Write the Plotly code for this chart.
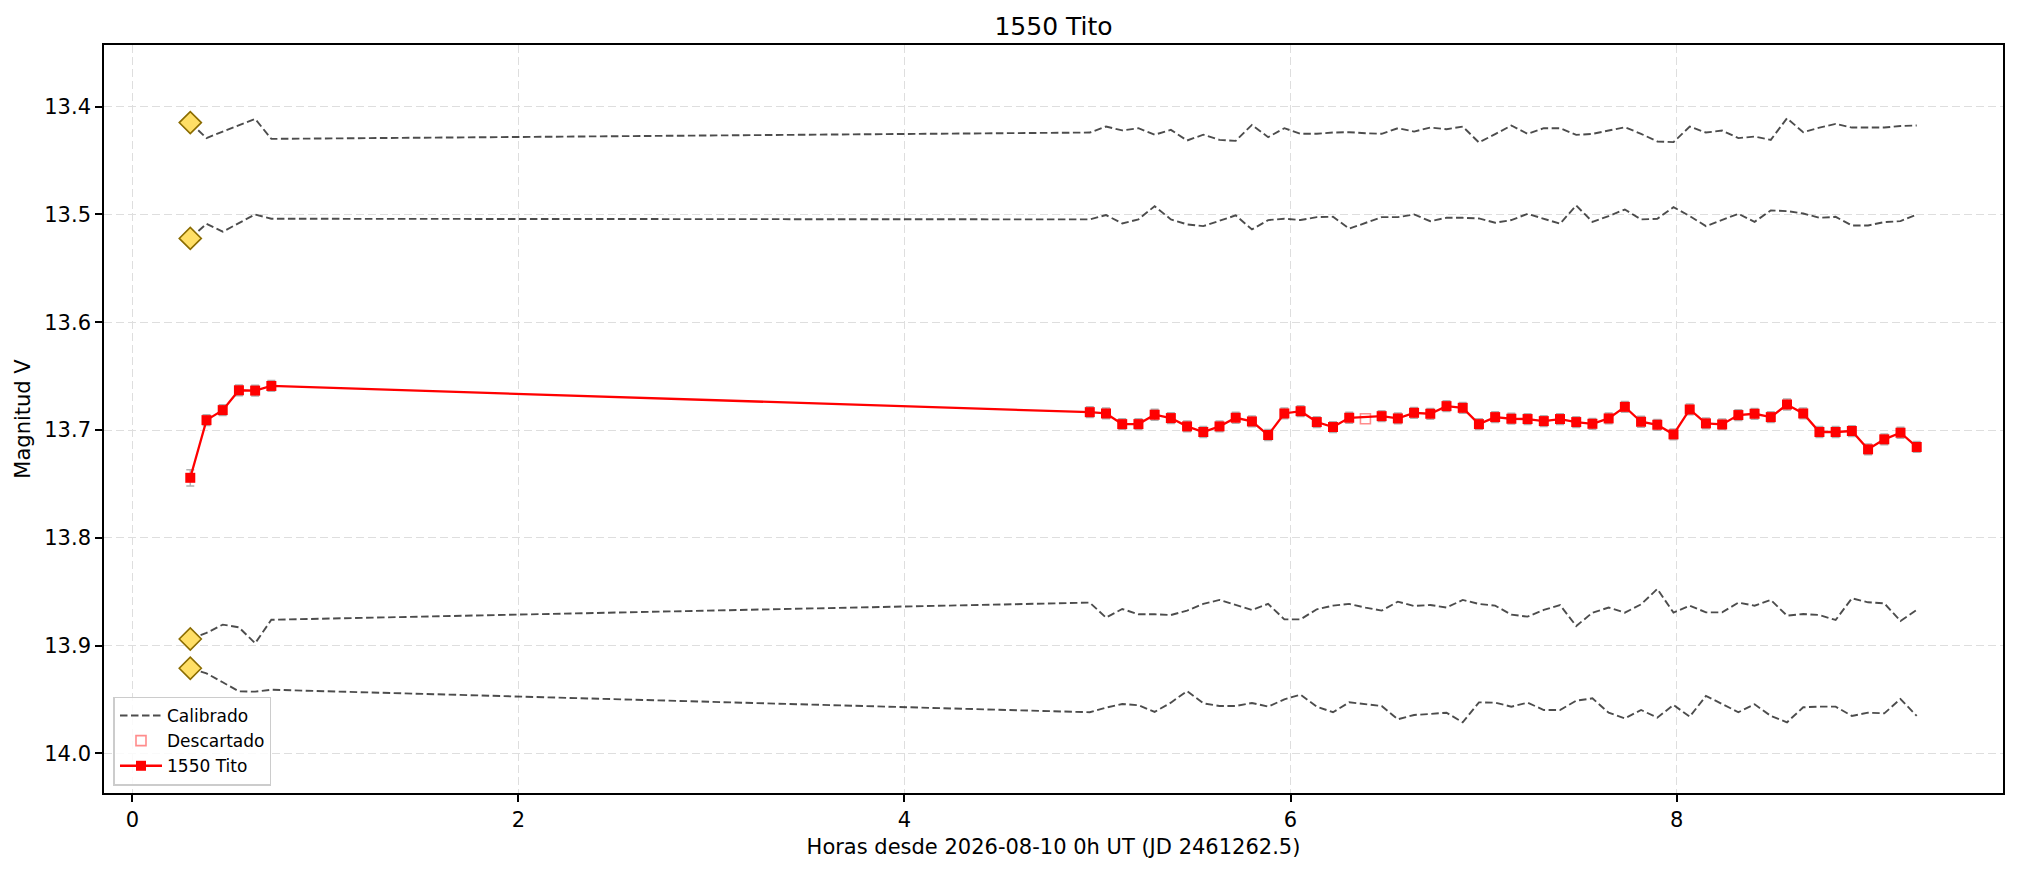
"""Light curve of 1550 Tito with the calibrated comparison stars, as in the reference."""
import plotly.graph_objects as go

TITLE = "1550 Tito"
X_LABEL = "Horas desde 2026-08-10 0h UT (JD 2461262.5)"
Y_LABEL = "Magnitud V"

# hours since 2026-08-10 0h UT, one exposure every ~5 min
TIME_H = [
    0.300, 0.384, 0.468, 0.552, 0.636, 0.720,
    4.960, 5.044, 5.128, 5.212, 5.296, 5.380, 5.464, 5.548, 5.632, 5.716,
    5.800, 5.884, 5.968, 6.052, 6.136, 6.220, 6.304, 6.388, 6.472, 6.556,
    6.640, 6.724, 6.808, 6.892, 6.976, 7.060, 7.144, 7.228, 7.312, 7.396,
    7.480, 7.564, 7.648, 7.732, 7.816, 7.900, 7.984, 8.068, 8.152, 8.236,
    8.320, 8.404, 8.488, 8.572, 8.656, 8.740, 8.824, 8.908, 8.992, 9.076,
    9.160, 9.244,
]

TITO_MAG = [
    13.7443, 13.6908, 13.6815, 13.6631, 13.6634, 13.6591,
    13.6834, 13.6846, 13.6945, 13.6945, 13.6858, 13.6889, 13.6966, 13.7018, 13.6966, 13.6886,
    13.6920, 13.7046, 13.6846, 13.6825, 13.6926, 13.6972, 13.6886, 13.6895, 13.6871, 13.6892,
    13.6840, 13.6849, 13.6778, 13.6794, 13.6945, 13.6880, 13.6895, 13.6898, 13.6917, 13.6898,
    13.6926, 13.6942, 13.6892, 13.6785, 13.6923, 13.6951, 13.7040, 13.6809, 13.6938, 13.6948,
    13.6861, 13.6849, 13.6880, 13.6763, 13.6846, 13.7018, 13.7018, 13.7009, 13.7179, 13.7086,
    13.7025, 13.7157,
]

TITO_ERR = [
    0.0075, 0.005, 0.005, 0.005, 0.005, 0.005,
    0.005, 0.005, 0.005, 0.005, 0.005, 0.005, 0.005, 0.005, 0.005, 0.005,
    0.005, 0.005, 0.005, 0.005, 0.005, 0.005, 0.005, 0.005, 0.005, 0.005,
    0.005, 0.005, 0.005, 0.005, 0.005, 0.005, 0.005, 0.005, 0.005, 0.005,
    0.005, 0.005, 0.005, 0.005, 0.005, 0.005, 0.005, 0.005, 0.005, 0.005,
    0.005, 0.005, 0.005, 0.005, 0.005, 0.005, 0.005, 0.005, 0.005, 0.005,
    0.005, 0.005,
]

DISCARDED = [23]  # index into TIME_H / TITO_MAG

COMP_A = [
    13.4148, 13.4292, 13.4231, 13.4175, 13.4114, 13.4299,
    13.4240, 13.4185, 13.4220, 13.4200, 13.4260, 13.4215, 13.4314, 13.4260, 13.4308, 13.4317,
    13.4169, 13.4283, 13.4200, 13.4252, 13.4252, 13.4240, 13.4237, 13.4246, 13.4252, 13.4200,
    13.4231, 13.4194, 13.4209, 13.4185, 13.4332, 13.4255, 13.4175, 13.4252, 13.4200, 13.4200,
    13.4262, 13.4252, 13.4222, 13.4191, 13.4252, 13.4323, 13.4329, 13.4185, 13.4240, 13.4222,
    13.4292, 13.4277, 13.4308, 13.4108, 13.4237, 13.4194, 13.4160, 13.4194, 13.4194, 13.4194,
    13.4179, 13.4175,
]
COMP_B = [
    13.5222, 13.5086, 13.5160, 13.5083, 13.5000, 13.5040,
    13.5046, 13.5006, 13.5083, 13.5046, 13.4923, 13.5046, 13.5092, 13.5108, 13.5062, 13.5009,
    13.5139, 13.5052, 13.5040, 13.5052, 13.5025, 13.5022, 13.5132, 13.5077, 13.5025, 13.5025,
    13.5000, 13.5062, 13.5031, 13.5031, 13.5037, 13.5077, 13.5052, 13.4994, 13.5040, 13.5086,
    13.4917, 13.5068, 13.5015, 13.4954, 13.5046, 13.5040, 13.4932, 13.5015, 13.5108, 13.5052,
    13.4994, 13.5068, 13.4963, 13.4969, 13.4991, 13.5031, 13.5022, 13.5102, 13.5102, 13.5071,
    13.5062, 13.5000,
]
COMP_C = [
    13.8938, 13.8882, 13.8805, 13.8830, 13.8978, 13.8760,
    13.8601, 13.8740, 13.8660, 13.8709, 13.8709, 13.8716, 13.8675, 13.8613, 13.8576, 13.8623,
    13.8669, 13.8613, 13.8756, 13.8756, 13.8663, 13.8629, 13.8613, 13.8647, 13.8675, 13.8592,
    13.8632, 13.8623, 13.8647, 13.8576, 13.8613, 13.8629, 13.8712, 13.8731, 13.8669, 13.8623,
    13.8818, 13.8694, 13.8647, 13.8694, 13.8617, 13.8474, 13.8694, 13.8629, 13.8691, 13.8691,
    13.8601, 13.8629, 13.8576, 13.8722, 13.8706, 13.8716, 13.8762, 13.8561, 13.8598, 13.8607,
    13.8771, 13.8669,
]
COMP_D = [
    13.9210, 13.9257, 13.9340, 13.9424, 13.9427, 13.9409,
    13.9618, 13.9575, 13.9541, 13.9553, 13.9615, 13.9529, 13.9421, 13.9535, 13.9560, 13.9560,
    13.9532, 13.9566, 13.9498, 13.9455, 13.9566, 13.9618, 13.9526, 13.9541, 13.9560, 13.9683,
    13.9643, 13.9634, 13.9622, 13.9711, 13.9526, 13.9529, 13.9566, 13.9529, 13.9597, 13.9597,
    13.9510, 13.9489, 13.9622, 13.9674, 13.9597, 13.9668, 13.9550, 13.9659, 13.9467, 13.9541,
    13.9618, 13.9544, 13.9652, 13.9711, 13.9572, 13.9566, 13.9566, 13.9652, 13.9622, 13.9628,
    13.9495, 13.9652,
]

X_TICKS = [0, 2, 4, 6, 8]
Y_TICKS = [13.4, 13.5, 13.6, 13.7, 13.8, 13.9, 14.0]

_FONT = "DejaVu Sans"
_AXIS_STYLE = dict(
    showline=True, mirror=True, linecolor="black", linewidth=1.6,
    ticks="outside", ticklen=7, tickwidth=1.6, tickcolor="black",
    showgrid=True, gridcolor="#dedede", gridwidth=1.4, griddash="8px,4px",
    zeroline=False, tickfont=dict(size=21, color="black"),
    title_font=dict(size=21, color="black"),
)

fig = go.Figure()

for i, comp in enumerate([COMP_A, COMP_B, COMP_C, COMP_D]):
    fig.add_trace(go.Scatter(
        x=TIME_H, y=comp, mode="lines",
        line=dict(color="rgba(0,0,0,0.7)", width=1.9, dash="7.5px,3.5px"),
        name="Calibrado", legendgroup="cal", showlegend=(i == 0),
    ))

fig.add_trace(go.Scatter(
    x=[TIME_H[0]] * 4, y=[c[0] for c in (COMP_A, COMP_B, COMP_C, COMP_D)],
    mode="markers", showlegend=False,
    marker=dict(symbol="diamond", size=17, color="#ffdf66", line=dict(color="#8b6c00", width=1.6)),
))

fig.add_trace(go.Scatter(
    x=[TIME_H[i] for i in DISCARDED], y=[TITO_MAG[i] for i in DISCARDED],
    mode="markers", name="Descartado",
    marker=dict(symbol="square-open", size=10, color="#ff8c8c", line=dict(width=1.6)),
))

keep = [i for i in range(len(TIME_H)) if i not in DISCARDED]
fig.add_trace(go.Scatter(
    x=[TIME_H[i] for i in keep], y=[TITO_MAG[i] for i in keep],
    mode="lines+markers", name=TITLE,
    line=dict(color="red", width=2.3),
    marker=dict(symbol="square", size=10, color="red"),
    error_y=dict(type="data", array=[TITO_ERR[i] for i in keep], color="#b0b0b0", thickness=1.5, width=4),
))

fig.update_xaxes(
    title_text=X_LABEL, range=[-0.147, 9.691], tickvals=X_TICKS, title_standoff=8, **_AXIS_STYLE,
)
fig.update_yaxes(
    title_text=Y_LABEL, range=[14.0367, 13.3428], tickvals=Y_TICKS, tickformat=".1f",
    title_standoff=8, **_AXIS_STYLE,
)

# the page body keeps an 8 px margin, so the figure is 8 px smaller on each side
fig.update_layout(
    width=2010, height=865,
    margin=dict(l=96, r=15, t=37, b=80),
    plot_bgcolor="white", paper_bgcolor="white",
    font=dict(family=_FONT, color="black"),
    title=dict(text=TITLE, x=0.5, xref="paper", y=0.979, yref="container", yanchor="middle",
               font=dict(size=25, color="black")),
    legend=dict(
        x=0.005, y=0.01, xanchor="left", yanchor="bottom",
        bgcolor="rgba(255,255,255,0.85)", bordercolor="#cccccc", borderwidth=1.5,
        font=dict(size=17, color="black"), tracegroupgap=0, itemwidth=42,
    ),
    showlegend=True,
)

fig.write_html("out.html")
